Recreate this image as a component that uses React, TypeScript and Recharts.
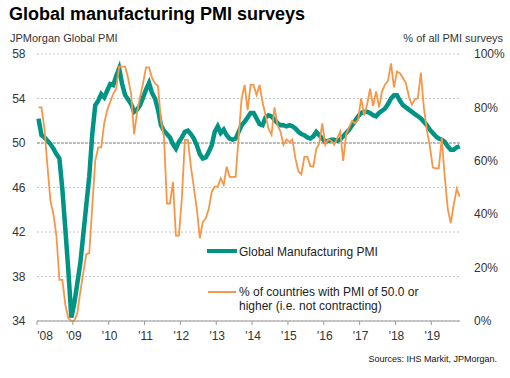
import React from "react";
import {
  LineChart,
  Line,
  XAxis,
  YAxis,
  CartesianGrid,
  ReferenceLine,
} from "recharts";

const FONT = '"Liberation Sans", Arial, sans-serif';
const TEAL = "#009484";
const ORANGE = "#f79646";

// one label per January, Jan 2008 .. Jan 2019
const yearLabels = ["'08", "'09", "'10", "'11", "'12", "'13", "'14", "'15", "'16", "'17", "'18", "'19"];

// JPMorgan Global Manufacturing PMI, monthly Jan 2008 - Oct 2019
const globalPmi = [
  52.2, 50.7, 50.5, 50.2, 49.9, 49.5, 49.0, 48.6, 45.8, 42.2, 38.5, 34.3,
  35.6, 37.4, 39.2, 41.8, 44.4, 47.0, 50.8, 53.4, 53.8, 54.4, 54.1, 54.7,
  55.3, 55.2, 56.0, 56.7, 55.3, 54.3, 53.9, 53.5, 52.8, 53.0, 53.4, 54.1,
  54.8, 55.4, 54.5, 54.0, 53.0, 51.6, 51.1, 50.8, 50.5, 49.9, 49.5, 50.1,
  50.5, 51.0, 51.1, 50.8, 50.4, 49.8, 49.0, 48.6, 48.7, 49.2, 49.8, 51.0,
  51.5, 50.9, 51.2, 50.7, 50.4, 50.3, 50.4, 51.0, 51.6, 51.9, 52.3, 52.7,
  52.7, 52.2, 51.7, 51.6, 52.3, 52.5, 52.4, 52.1, 51.8, 51.6, 51.6, 51.5,
  51.6, 51.5, 51.3, 51.0, 50.8, 50.7, 50.5, 50.4, 50.6, 51.0, 50.7, 50.4,
  50.1, 50.2, 50.3, 50.3, 50.2, 50.3, 50.6, 50.9, 51.2, 51.6, 52.0, 52.4,
  52.7, 52.8, 52.8, 52.7, 52.5, 52.4, 52.7, 52.9, 53.1, 53.5, 54.0, 54.3,
  54.3, 53.8, 53.4, 53.2, 53.0, 52.8, 52.6, 52.4, 52.2, 51.9, 51.6, 51.2,
  50.9, 50.6, 50.4, 50.3, 50.1, 49.7, 49.4, 49.4, 49.6, 49.7,
];

// % of countries with PMI of 50.0 or higher, same months
const pctNotContracting = [
  80, 80, 72, 58, 45, 40, 32, 15.4, 15.4, 6, 1, 0,
  0, 3, 11, 18, 25, 25.4, 43, 60, 65, 65, 74, 79,
  82, 85, 87, 95.3, 95.3, 95.3, 91, 85, 70, 78, 84, 89,
  95, 95, 91, 89, 88, 75, 69, 44, 44, 52, 32, 32,
  46, 67.8, 67.8, 58, 50, 42, 31, 37, 38.5, 42, 48.4, 50.3,
  50.3, 53.4, 51, 57.8, 54, 54, 54, 69, 83.4, 88.4, 79, 88.4,
  88.4, 84.6, 88.4, 82, 77, 72, 69.7, 80, 73.4, 71, 66, 68,
  67, 68, 61, 56, 55, 61.5, 61.5, 58, 57.8, 64.5, 66.5, 74,
  66, 68, 67.5, 66, 68.4, 71, 60, 70, 72.5, 75, 74, 75.3,
  83.4, 77, 81, 87, 80.5, 86, 80, 86, 88.5, 90, 96.5, 87.5,
  93.4, 92.8, 91, 89, 84, 81, 83, 83.4, 93, 80, 71.5, 65.5,
  57.5, 57.2, 57.2, 68.5, 54, 42, 36.7, 43.5, 49.5, 46.6,
];

const pmiTicks = [34, 38, 42, 46, 50, 54, 58];
const pctTicks = [0, 20, 40, 60, 80, 100];

// month i sits mid-month, so x = i + 0.5 months after Jan 2008
const chartData = globalPmi.map((v, i) => ({
  t: i + 0.5,
  pmi: v,
  pct: pctNotContracting[i],
}));
const yearTicks = yearLabels.map((_, k) => k * 12);

const YearTick = (props: any) => {
  const { x, y, payload } = props;
  const idx = Math.round(payload.value / 12);
  const shift = idx === 0 ? 8 : 1;
  return (
    <text x={x + shift} y={y + 12.5} textAnchor="middle" fontSize={12} fill="#333" fontFamily={FONT}>
      {yearLabels[idx]}
    </text>
  );
};

const PmiTick = (props: any) => {
  const { y, payload } = props;
  return (
    <text x={25.5} y={y + 4.2} textAnchor="end" fontSize={12} fill="#333" fontFamily={FONT}>
      {payload.value}
    </text>
  );
};

const PctTick = (props: any) => {
  const { y, payload } = props;
  return (
    <text x={474} y={y + 4.2} textAnchor="start" fontSize={12} fill="#333" fontFamily={FONT}>
      {payload.value}%
    </text>
  );
};

const abs = (left: number, top: number, extra: React.CSSProperties = {}): React.CSSProperties => ({
  position: "absolute",
  left,
  top,
  fontFamily: FONT,
  whiteSpace: "nowrap",
  ...extra,
});

const App: React.FC = () => {
  return (
    <div style={{ position: "absolute", left: 0, top: 0, width: 510, height: 378, background: "#fff" }}>
      <LineChart
        width={510}
        height={378}
        data={chartData}
        margin={{ top: 54, right: 0, bottom: 0, left: 0 }}
      >
        <CartesianGrid
          vertical={false}
          yAxisId="pmi"
          stroke="#c8c8c8"
          strokeDasharray="2 2"
        />
        <ReferenceLine yAxisId="pmi" y={50} stroke="#8c8c8c" strokeDasharray="3 1" />
        <XAxis
          dataKey="t"
          type="number"
          domain={[0, 141.6]}
          ticks={yearTicks}
          interval={0}
          height={57}
          stroke="#999"
          tickSize={4}
          tick={<YearTick />}
        />
        <YAxis
          yAxisId="pmi"
          orientation="left"
          width={37}
          domain={[34, 58]}
          ticks={pmiTicks}
          axisLine={false}
          tickLine={false}
          tick={<PmiTick />}
        />
        <YAxis
          yAxisId="pct"
          orientation="right"
          width={50}
          domain={[0, 100]}
          ticks={pctTicks}
          axisLine={false}
          tickLine={false}
          tick={<PctTick />}
        />
        <Line
          yAxisId="pmi"
          type="linear"
          dataKey="pmi"
          stroke={TEAL}
          strokeWidth={4.5}
          dot={false}
          isAnimationActive={false}
        />
        <Line
          yAxisId="pct"
          type="linear"
          dataKey="pct"
          stroke={ORANGE}
          strokeWidth={1.8}
          dot={false}
          isAnimationActive={false}
        />
      </LineChart>

      <div style={abs(9, 4, { fontSize: 18, fontWeight: "bold", lineHeight: "20px", color: "#000" })}>
        Global manufacturing PMI surveys
      </div>
      <div style={abs(10, 32, { fontSize: 11, lineHeight: "13px", color: "#333" })}>
        JPMorgan Global PMI
      </div>
      <div style={abs(0, 32, { right: 7, left: "auto", fontSize: 11, lineHeight: "13px", color: "#333" })}>
        % of all PMI surveys
      </div>

      {/* legend */}
      <div style={abs(207, 248.7, { width: 30, height: 4, background: TEAL })} />
      <div style={abs(239, 244.5, { fontSize: 12, lineHeight: "14px", color: "#222" })}>
        Global Manufacturing PMI
      </div>
      <div style={abs(208, 290.7, { width: 28, height: 2, background: ORANGE })} />
      <div style={abs(239, 284.5, { fontSize: 12, lineHeight: "14.5px", color: "#222" })}>
        % of countries with PMI of 50.0 or
        <br />
        higher (i.e. not contracting)
      </div>

      <div style={abs(0, 354, { right: 13, left: "auto", fontSize: 9, lineHeight: "11px", color: "#111" })}>
        Sources: IHS Markit, JPMorgan.
      </div>
    </div>
  );
};

export default App;
